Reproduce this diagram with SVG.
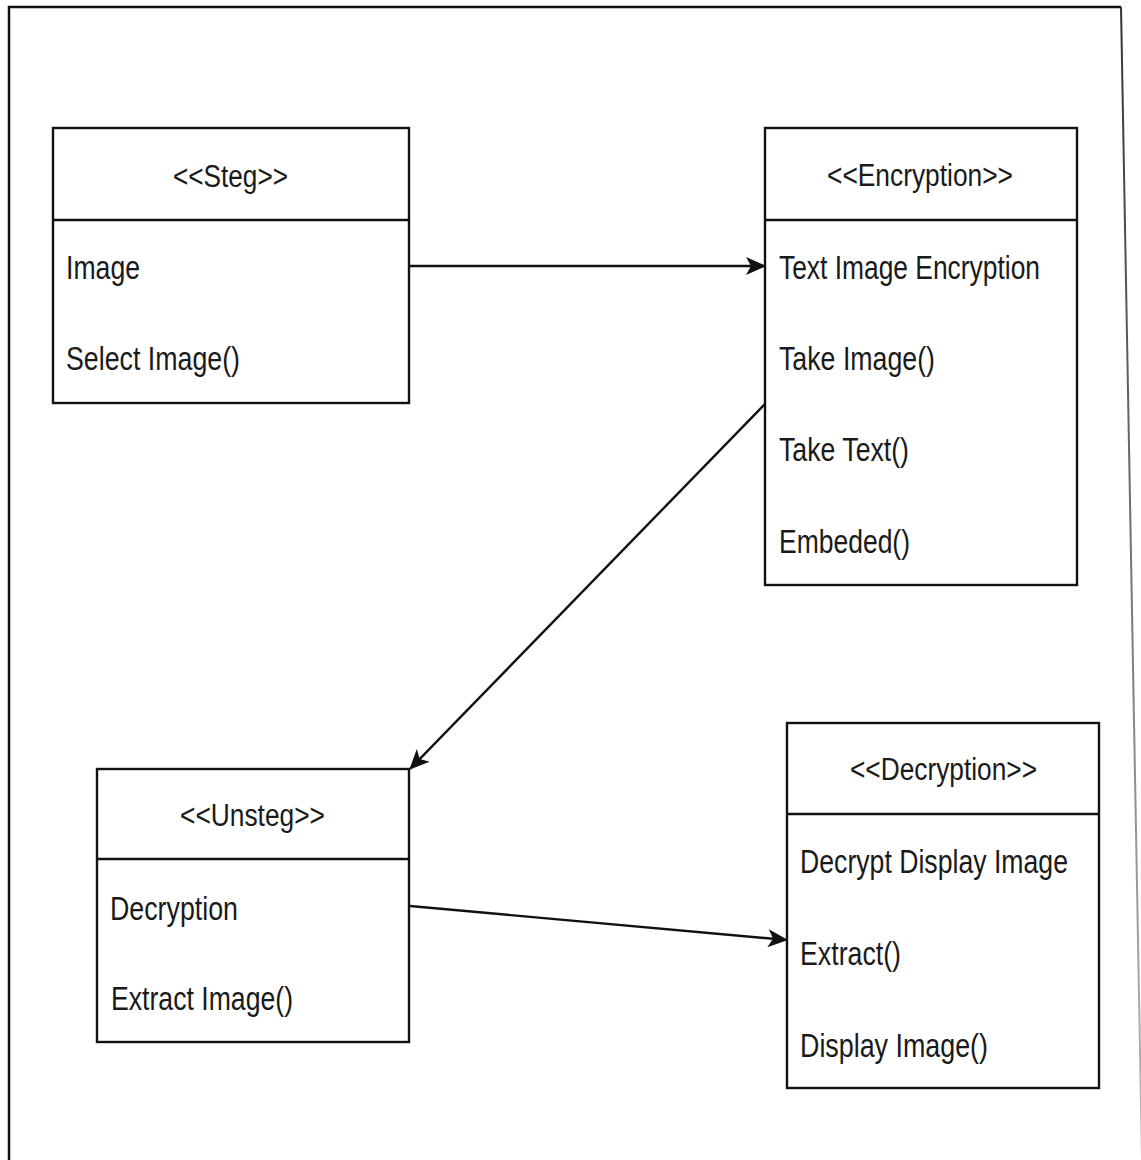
<svg xmlns="http://www.w3.org/2000/svg" width="1141" height="1160" viewBox="0 0 1141 1160">
  <defs>
    <style>
      .box { fill: #ffffff; stroke: #111111; stroke-width: 2.4; }
      .sep { stroke: #111111; stroke-width: 2.4; }
      .hdr { font-family: "Liberation Sans", Arial, sans-serif; font-size: 31px; fill: #1a1a1a; }
      .item { font-family: "Liberation Sans", Arial, sans-serif; font-size: 34px; fill: #1a1a1a; }
      .edge { fill: none; stroke: #111111; stroke-width: 2.4; }
      .frame { fill: none; stroke: #111111; stroke-width: 2.5; }
    </style>
    <marker id="arrow" markerUnits="userSpaceOnUse" viewBox="0 0 20 18" refX="19" refY="9" markerWidth="20" markerHeight="18" orient="auto">
      <path d="M0,0 L20,9 L0,18 L5,9 Z" fill="#111111"/>
    </marker>
    <linearGradient id="edgeFade" gradientUnits="userSpaceOnUse" x1="0" y1="7" x2="0" y2="1160">
      <stop offset="0" stop-color="#333333"/>
      <stop offset="1" stop-color="#bbbbbb"/>
    </linearGradient>
  </defs>

  <rect x="0" y="0" width="1141" height="1160" fill="#ffffff"/>

  <!-- outer frame -->
  <g id="frame">
    <path class="frame" d="M9,1160 L9,7 L1121,7"/>
    <line x1="1121" y1="7" x2="1142" y2="1160" stroke="url(#edgeFade)" stroke-width="2"/>
  </g>

  <!-- connectors -->
  <g id="connectors">
    <line class="edge" x1="410" y1="266" x2="765" y2="266" marker-end="url(#arrow)"/>
    <line class="edge" x1="765" y1="404" x2="410" y2="769" marker-end="url(#arrow)"/>
    <line class="edge" x1="410" y1="906" x2="787" y2="940" marker-end="url(#arrow)"/>
  </g>

  <!-- Steg -->
  <g id="steg">
    <rect class="box" x="53" y="128" width="356" height="275"/>
    <line class="sep" x1="53" y1="220" x2="409" y2="220"/>
    <text class="hdr" x="173" y="187" textLength="115" lengthAdjust="spacingAndGlyphs">&lt;&lt;Steg&gt;&gt;</text>
    <text class="item" x="66" y="279" textLength="74" lengthAdjust="spacingAndGlyphs">Image</text>
    <text class="item" x="66" y="370" textLength="174" lengthAdjust="spacingAndGlyphs">Select Image()</text>
  </g>

  <!-- Encryption -->
  <g id="encryption">
    <rect class="box" x="765" y="128" width="312" height="457"/>
    <line class="sep" x1="765" y1="220" x2="1077" y2="220"/>
    <text class="hdr" x="827" y="186" textLength="186" lengthAdjust="spacingAndGlyphs">&lt;&lt;Encryption&gt;&gt;</text>
    <text class="item" x="779" y="279" textLength="261" lengthAdjust="spacingAndGlyphs">Text Image Encryption</text>
    <text class="item" x="779" y="370" textLength="156" lengthAdjust="spacingAndGlyphs">Take Image()</text>
    <text class="item" x="779" y="461" textLength="130" lengthAdjust="spacingAndGlyphs">Take Text()</text>
    <text class="item" x="779" y="553" textLength="131" lengthAdjust="spacingAndGlyphs">Embeded()</text>
  </g>

  <!-- Unsteg -->
  <g id="unsteg">
    <rect class="box" x="97" y="769" width="312" height="273"/>
    <line class="sep" x1="97" y1="859" x2="409" y2="859"/>
    <text class="hdr" x="180" y="826" textLength="145" lengthAdjust="spacingAndGlyphs">&lt;&lt;Unsteg&gt;&gt;</text>
    <text class="item" x="110" y="920" textLength="128" lengthAdjust="spacingAndGlyphs">Decryption</text>
    <text class="item" x="111" y="1010" textLength="182" lengthAdjust="spacingAndGlyphs">Extract Image()</text>
  </g>

  <!-- Decryption -->
  <g id="decryption">
    <rect class="box" x="787" y="723" width="312" height="365"/>
    <line class="sep" x1="787" y1="814" x2="1099" y2="814"/>
    <text class="hdr" x="850" y="780" textLength="187" lengthAdjust="spacingAndGlyphs">&lt;&lt;Decryption&gt;&gt;</text>
    <text class="item" x="800" y="873" textLength="268" lengthAdjust="spacingAndGlyphs">Decrypt Display Image</text>
    <text class="item" x="800" y="965" textLength="101" lengthAdjust="spacingAndGlyphs">Extract()</text>
    <text class="item" x="800" y="1057" textLength="188" lengthAdjust="spacingAndGlyphs">Display Image()</text>
  </g>
</svg>
